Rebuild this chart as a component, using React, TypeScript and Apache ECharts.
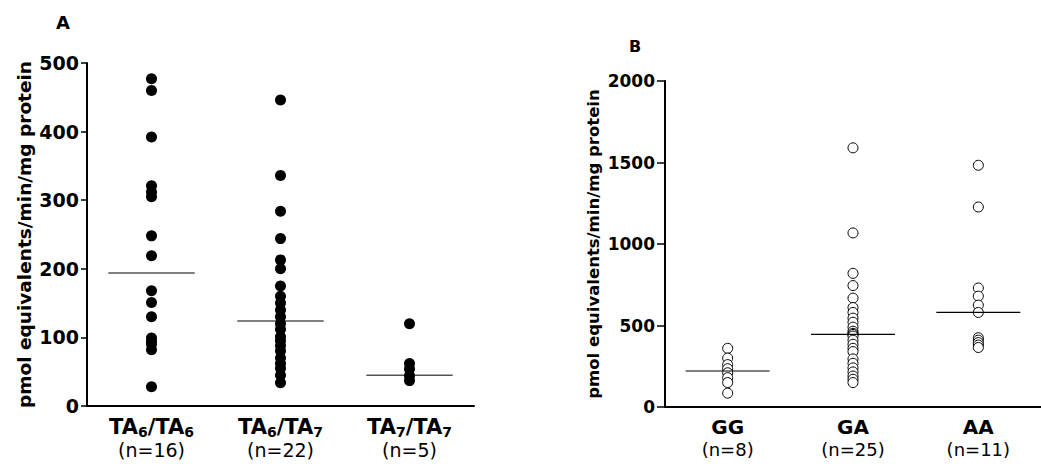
import React, { useEffect, useRef } from "react";
import * as echarts from "echarts";

// ---------- Panel A data ----------
const catsA = ["TA6/TA6", "TA6/TA7", "TA7/TA7"];
const nA = ["(n=16)", "(n=22)", "(n=5)"];
const subA = [["6", "6"], ["6", "7"], ["7", "7"]];
const valsA_TA66 = [477, 460, 392, 321, 312, 305, 248, 219, 168, 151, 130, 99, 94, 90, 82, 28];
const valsA_TA67 = [446, 336, 284, 244, 213, 200, 175, 160, 150, 140, 130, 120, 112, 101, 95, 88, 80, 70, 62, 55, 45, 34];
const valsA_TA77 = [120, 62, 54, 44, 37];
const mediansA = [194, 124, 45];
const ticksA = [0, 100, 200, 300, 400, 500];

// ---------- Panel B data ----------
const catsB = ["GG", "GA", "AA"];
const nB = ["(n=8)", "(n=25)", "(n=11)"];
const valsB_GG = [360, 300, 260, 235, 210, 180, 150, 85];
const valsB_GA = [1590, 1068, 820, 745, 668, 610, 580, 545, 520, 490, 465, 452, 445, 435, 410, 385, 360, 340, 295, 268, 240, 215, 190, 170, 150];
const valsB_AA = [1483, 1227, 730, 680, 625, 580, 425, 410, 395, 380, 365];
const mediansB = [221, 445, 580];
const ticksB = [0, 500, 1000, 1500, 2000];

const yName = "pmol equivalents/min/mg protein";
const FONT = "DejaVu Sans";

export default function App() {
  const ref = useRef<HTMLDivElement>(null);
  useEffect(() => {
    if (!ref.current) return;
    const chart = echarts.init(ref.current, null, { renderer: "svg" });
    const groupsA = [valsA_TA66, valsA_TA67, valsA_TA77];
    const groupsB = [valsB_GG, valsB_GA, valsB_AA];
    const half = 0.335;

    const scatterData = (groups: number[][]) =>
      groups.flatMap((g, i) => g.map((v) => [i, v]));

    const medianSeries = (meds: number[], xAxisIndex: number, yAxisIndex: number, color: string, width: number, z: number) =>
      meds.map((m, i) => ({
        type: "line",
        xAxisIndex,
        yAxisIndex,
        symbol: "none",
        silent: true,
        z,
        lineStyle: { color, width },
        data: [[i - half, m], [i + half, m]],
      }));

    const catAxisCommon = {
      type: "category",
      boundaryGap: true,
      axisLine: { onZero: false, lineStyle: { color: "#000", width: 2 } },
      axisTick: { alignWithLabel: true, length: 6, lineStyle: { color: "#000", width: 1.5 } },
      splitLine: { show: false },
    };

    const option: any = {
      animation: false,
      backgroundColor: "#fff",
      title: [
        { text: "A", left: 51, top: 8, textStyle: { fontFamily: FONT, fontWeight: "bold", fontSize: 18, color: "#000" } },
        { text: "B", left: 624, top: 33, textStyle: { fontFamily: FONT, fontWeight: "bold", fontSize: 16, color: "#000" } },
      ],
      grid: [
        { left: 87, top: 63, width: 387, height: 343 },
        { left: 665, top: 81, width: 387, height: 326 },
      ],
      xAxis: [
        {
          ...catAxisCommon,
          gridIndex: 0,
          data: catsA,
          axisLabel: {
            margin: 9,
            interval: 0,
            color: "#000",
            formatter: (val: string, idx: number) => {
              const s = subA[idx];
              return `{b|TA}{s|${s[0]}}{b|/TA}{s|${s[1]}}\n{n|${nA[idx]}}`;
            },
            rich: {
              b: { fontFamily: FONT, fontWeight: "bold", fontSize: 21, color: "#000", lineHeight: 24 },
              s: { fontFamily: FONT, fontWeight: "bold", fontSize: 14, color: "#000", lineHeight: 24, verticalAlign: "bottom" },
              n: { fontFamily: FONT, fontSize: 19, color: "#000", lineHeight: 21 },
            },
          },
        },
        {
          type: "value", gridIndex: 0, min: -0.5, max: 2.5, show: false,
        },
        {
          ...catAxisCommon,
          gridIndex: 1,
          data: catsB,
          axisLabel: {
            margin: 8,
            interval: 0,
            color: "#000",
            formatter: (val: string, idx: number) => `{b|${val}}\n{n|${nB[idx]}}`,
            rich: {
              b: { fontFamily: FONT, fontWeight: "bold", fontSize: 20, color: "#000", lineHeight: 24 },
              n: { fontFamily: FONT, fontSize: 18, color: "#000", lineHeight: 21 },
            },
          },
        },
        {
          type: "value", gridIndex: 1, min: -0.5, max: 2.5, show: false,
        },
      ],
      yAxis: [
        {
          type: "value",
          gridIndex: 0,
          min: ticksA[0],
          max: ticksA[ticksA.length - 1],
          interval: 100,
          name: yName,
          nameLocation: "middle",
          nameGap: 53,
          nameTextStyle: { fontFamily: FONT, fontWeight: "bold", fontSize: 18.5, color: "#000" },
          axisLine: { show: true, onZero: false, lineStyle: { color: "#000", width: 2 } },
          axisTick: { show: true, length: 6, lineStyle: { color: "#000", width: 1.5 } },
          axisLabel: { margin: 8, fontFamily: FONT, fontWeight: "bold", fontSize: 19, color: "#000", formatter: (v: number) => String(v) },
          splitLine: { show: false },
        },
        {
          type: "value",
          gridIndex: 1,
          min: ticksB[0],
          max: ticksB[ticksB.length - 1],
          interval: 500,
          name: yName,
          nameLocation: "middle",
          nameGap: 63,
          nameTextStyle: { fontFamily: FONT, fontWeight: "bold", fontSize: 16.5, color: "#000" },
          axisLine: { show: true, onZero: false, lineStyle: { color: "#000", width: 2 } },
          axisTick: { show: true, length: 8, lineStyle: { color: "#000", width: 1.5 } },
          axisLabel: { margin: 10, fontFamily: FONT, fontWeight: "bold", fontSize: 17, color: "#000", formatter: (v: number) => String(v) },
          splitLine: { show: false },
        },
      ],
      series: [
        ...medianSeries(mediansA, 1, 0, "#555", 1.5, 1),
        {
          type: "scatter",
          xAxisIndex: 0,
          yAxisIndex: 0,
          symbol: "circle",
          symbolSize: 11,
          z: 2,
          itemStyle: { color: "#000", opacity: 1 },
          data: scatterData(groupsA),
        },
        {
          type: "scatter",
          xAxisIndex: 2,
          yAxisIndex: 1,
          symbol: "circle",
          symbolSize: 10,
          z: 2,
          itemStyle: { color: "#fff", borderColor: "#000", borderWidth: 1, opacity: 1 },
          data: scatterData(groupsB),
        },
        ...medianSeries(mediansB, 3, 1, "#000", 1.2, 3),
      ],
    };
    chart.setOption(option);
    return () => chart.dispose();
  }, []);
  return (
    <div
      ref={ref}
      style={{ position: "absolute", left: 0, top: 0, width: 1041, height: 471, background: "#fff" }}
    />
  );
}
